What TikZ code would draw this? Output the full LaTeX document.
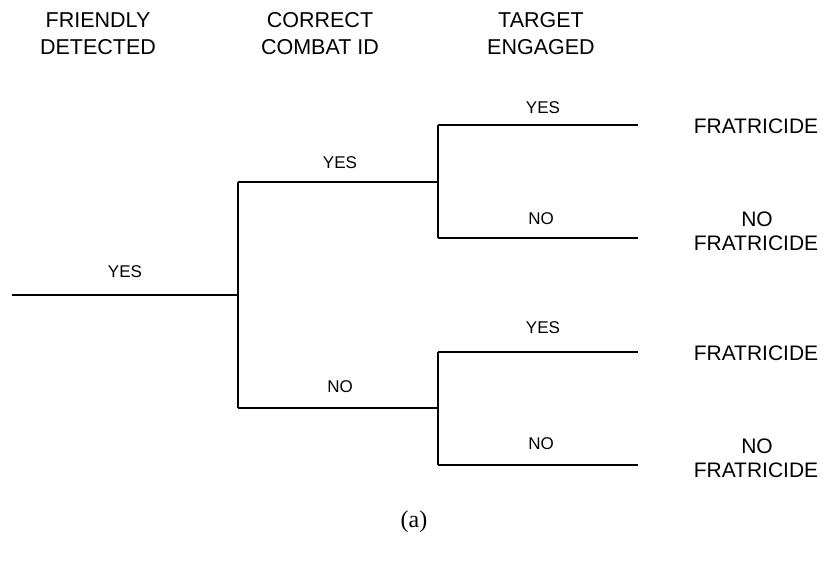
\documentclass[tikz,border=0pt]{standalone}
\usepackage{fontspec}
\setmainfont{Liberation Sans}
\newfontfamily\capfont{Liberation Serif}
\begin{document}
\begin{tikzpicture}[x=1pt,y=-1pt,
  branch/.style={line width=2pt},
  head/.style={font=\fontsize{21.5}{26}\selectfont, anchor=base, inner sep=0pt, align=center},
  lbl/.style={font=\fontsize{17}{20}\selectfont, anchor=base, inner sep=0pt},
  outc/.style={font=\fontsize{21}{24}\selectfont, anchor=base, inner sep=0pt, align=center}]
\useasboundingbox (0,0) rectangle (827,563);

% column headings
\node[head] (h1) at (98,27) {FRIENDLY};
\node[head] (h1b) at (98,54) {DETECTED};
\node[head] (h2) at (320,27) {CORRECT};
\node[head] (h2b) at (320,54) {COMBAT ID};
\node[head] (h3) at (541,27) {TARGET};
\node[head] (h3b) at (541,54) {ENGAGED};

% tree junctions and leaves
\coordinate (root) at (12,295);
\coordinate (j1) at (238,295);
\coordinate (a) at (238,182);
\coordinate (b) at (238,408);
\coordinate (ja) at (438,182);
\coordinate (jb) at (438,408);
\coordinate (a1) at (438,125);
\coordinate (a2) at (438,238);
\coordinate (b1) at (438,352);
\coordinate (b2) at (438,465);
\coordinate (e1) at (638,125);
\coordinate (e2) at (638,238);
\coordinate (e3) at (638,352);
\coordinate (e4) at (638,465);

\draw[branch] (root) -- (j1);
\draw[branch] (a) -- (b);
\draw[branch] (a) -- (ja);
\draw[branch] (b) -- (jb);
\draw[branch] (a1) -- (a2);
\draw[branch] (b1) -- (b2);
\draw[branch] (a1) -- (e1);
\draw[branch] (a2) -- (e2);
\draw[branch] (b1) -- (e3);
\draw[branch] (b2) -- (e4);

% branch labels
\node[lbl] (l0) at (125,277) {YES};
\node[lbl] (l1) at (340,168) {YES};
\node[lbl] (l2) at (340,392) {NO};
\node[lbl] (l3) at (543,113) {YES};
\node[lbl] (l4) at (541,224) {NO};
\node[lbl] (l5) at (543,333) {YES};
\node[lbl] (l6) at (541,449) {NO};

% outcomes
\node[outc] (o1) at (756,133) {FRATRICIDE};
\node[outc] (o2a) at (757,226) {NO};
\node[outc] (o2b) at (756,250) {FRATRICIDE};
\node[outc] (o3) at (756,360) {FRATRICIDE};
\node[outc] (o4a) at (757,453) {NO};
\node[outc] (o4b) at (756,477) {FRATRICIDE};

% caption
\node[font=\capfont\fontsize{24}{28}\selectfont, anchor=base, inner sep=0pt] (cap) at (414,527) {(a)};
\end{tikzpicture}
\end{document}
